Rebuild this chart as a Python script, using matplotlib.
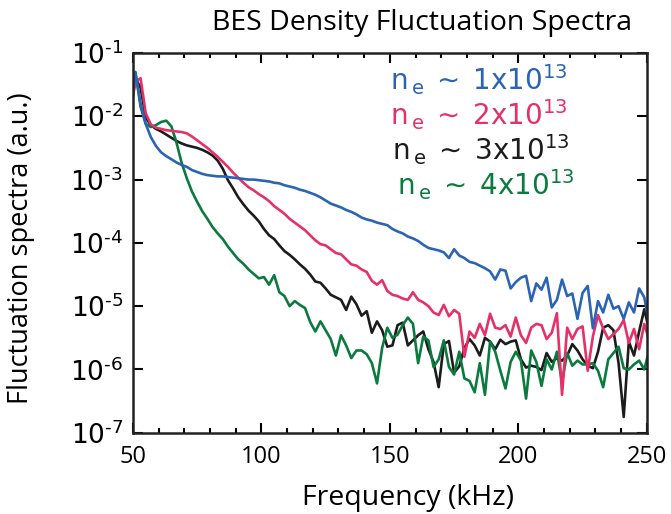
import matplotlib
matplotlib.use('Agg')
import matplotlib.pyplot as plt
import matplotlib.ticker as ticker
import numpy as np

plt.rcParams['mathtext.fontset'] = 'custom'
plt.rcParams['mathtext.rm'] = 'Liberation Sans'
plt.rcParams['mathtext.it'] = 'Liberation Sans'
plt.rcParams['mathtext.bf'] = 'Liberation Sans'

# frequency grid (kHz), 2 kHz steps
freq = np.arange(49, 252, 2)

# log10 of spectra
ne1 = [-1.90, -1.32, -1.80, -2.12, -2.33, -2.47, -2.57, -2.63, -2.68, -2.73,
       -2.77, -2.80, -2.85, -2.88, -2.91, -2.93, -2.94, -2.95, -2.95, -2.96,
       -2.97, -2.98, -2.99, -3.00, -3.00, -3.01, -3.02, -3.03, -3.05, -3.06,
       -3.09, -3.11, -3.13, -3.16, -3.18, -3.21, -3.24, -3.28, -3.33, -3.38,
       -3.41, -3.44, -3.48, -3.51, -3.55, -3.60, -3.63, -3.65, -3.68, -3.70,
       -3.72, -3.78, -3.82, -3.85, -3.90, -3.93, -3.97, -4.03, -4.08, -4.10,
       -4.12, -4.15, -4.24, -4.10, -4.20, -4.24, -4.30, -4.32, -4.36, -4.40,
       -4.45, -4.58, -4.42, -4.44, -4.72, -4.62, -4.55, -4.52, -4.92, -4.64,
       -4.74, -4.55, -5.02, -4.90, -4.58, -4.84, -4.80, -5.20, -4.79, -4.68,
       -5.35, -4.92, -5.10, -4.82, -5.04, -5.00, -5.20, -4.94, -5.10, -4.72,
       -4.86, -5.30]

ne2 = [-1.95, -1.45, -1.40, -1.95, -2.13, -2.18, -2.20, -2.22, -2.23, -2.24,
       -2.25, -2.27, -2.32, -2.38, -2.44, -2.50, -2.57, -2.64, -2.72, -2.80,
       -2.89, -2.97, -3.05, -3.12, -3.17, -3.23, -3.28, -3.34, -3.42, -3.48,
       -3.54, -3.62, -3.68, -3.74, -3.80, -3.88, -3.96, -4.02, -4.04, -4.10,
       -4.16, -4.18, -4.26, -4.34, -4.36, -4.42, -4.46, -4.60, -4.66, -4.59,
       -4.76, -4.82, -4.84, -4.88, -4.90, -4.78, -4.90, -4.94, -5.00, -5.10,
       -5.14, -4.98, -5.16, -5.06, -5.12, -5.80, -5.40, -5.50, -5.28, -5.46,
       -5.12, -5.34, -5.36, -5.30, -5.48, -5.18, -5.46, -5.58, -5.34, -5.28,
       -5.30, -5.52, -5.42, -5.11, -6.40, -5.34, -5.52, -5.36, -5.32, -6.02,
       -5.48, -5.14, -5.35, -5.52, -5.44, -5.36, -5.22, -5.58, -5.36, -5.68,
       -5.28, -5.55]

ne3 = [-1.95, -1.40, -1.55, -2.02, -2.14, -2.20, -2.24, -2.29, -2.34, -2.39,
       -2.43, -2.46, -2.48, -2.50, -2.53, -2.57, -2.62, -2.70, -2.83, -3.01,
       -3.14, -3.28, -3.39, -3.49, -3.57, -3.66, -3.78, -3.88, -3.94, -4.04,
       -4.13, -4.19, -4.26, -4.34, -4.41, -4.50, -4.61, -4.63, -4.72, -4.82,
       -4.86, -4.90, -5.06, -4.85, -4.97, -5.15, -5.08, -5.42, -5.24, -5.38,
       -5.64, -5.62, -5.30, -5.26, -5.62, -5.54, -5.46, -5.40, -5.68, -5.88,
       -6.28, -5.60, -5.55, -6.05, -5.95, -5.66, -5.52, -5.62, -5.78, -5.50,
       -5.56, -5.68, -5.53, -5.60, -5.56, -5.54, -5.84, -5.97, -5.94, -5.96,
       -6.01, -5.74, -5.88, -5.82, -5.86, -5.78, -5.60, -5.70, -5.84, -5.94,
       -5.98, -5.72, -5.34, -5.30, -5.38, -5.90, -6.75, -5.56, -5.78, -5.40,
       -5.05, -5.40]

ne4 = [-1.80, -1.30, -1.85, -2.12, -2.17, -2.14, -2.09, -2.07, -2.16, -2.42,
       -2.74, -2.98, -3.19, -3.35, -3.50, -3.62, -3.75, -3.85, -3.94, -4.06,
       -4.16, -4.26, -4.33, -4.42, -4.49, -4.56, -4.54, -4.66, -4.51, -4.78,
       -4.84, -5.00, -4.92, -4.98, -5.03, -5.25, -5.40, -5.24, -5.38, -5.52,
       -5.78, -5.46, -5.62, -5.82, -5.70, -5.70, -5.76, -5.90, -6.22, -5.66,
       -5.34, -5.50, -5.45, -5.30, -5.18, -5.28, -5.90, -5.48, -5.54, -5.96,
       -5.84, -5.54, -5.96, -6.08, -5.72, -6.14, -6.18, -6.36, -5.90, -6.40,
       -5.56, -5.72, -6.02, -6.30, -5.88, -5.72, -5.86, -6.46, -5.70, -5.88,
       -6.26, -5.84, -6.00, -5.72, -6.20, -5.74, -5.94, -5.86, -5.92, -5.92,
       -5.90, -6.02, -6.28, -5.84, -5.74, -5.64, -5.98, -6.00, -5.92, -5.86,
       -6.00, -5.68]

series = [ne1, ne2, ne3, ne4]
labels = ['1', '2', '3', '4']
colors = ['#2b63b5', '#e5316a', '#1c1c1c', '#0b7a3e']

fig = plt.figure(figsize=(6.71, 5.14), dpi=100)
ax = fig.add_axes([0.198, 0.158, 0.766, 0.739])

# draw black first so the others sit on top like the original
for i in [2, 3, 1, 0]:
    ax.plot(freq, 10.0 ** np.array(series[i]), color=colors[i], lw=1.9)

ax.set_yscale('log')
ax.set_xlim(50, 250)
ax.set_ylim(1e-7, 1e-1)

ax.xaxis.set_major_locator(ticker.MultipleLocator(50))
ax.xaxis.set_minor_locator(ticker.MultipleLocator(10))
ax.yaxis.set_major_locator(ticker.LogLocator(base=10, numticks=10))
ax.yaxis.set_minor_locator(ticker.NullLocator())
# short hyphen in the exponent, like the original
ax.yaxis.set_major_formatter(ticker.FuncFormatter(
    lambda v, p: r'$\mathregular{10^{' + '\u2010' + '%d}}$'
    % abs(int(round(np.log10(v))))))

ax.tick_params(which='both', direction='in', top=True, right=True, width=1.5)
ax.tick_params(which='major', length=7)
ax.tick_params(which='minor', length=3.5)
ax.tick_params(axis='y', labelsize=19, pad=7)
ax.tick_params(axis='x', labelsize=17, pad=9)
for lab in ax.get_xticklabels():
    lab.set_family('Open Sans')
for s in ax.spines.values():
    s.set_linewidth(1.8)
    s.set_color('#222222')

ax.set_xlabel('Frequency (kHz)', fontsize=20.5, family='Open Sans')
ax.xaxis.set_label_coords(0.535, -0.135)
ax.set_ylabel('Fluctuation spectra (a.u.)', fontsize=19.5, family='Open Sans')
ax.yaxis.set_label_coords(-0.19, 0.487)

fig.text(0.629, 0.942, 'BES Density Fluctuation Spectra', fontsize=20.5,
         family='Open Sans', ha='center', va='baseline')

leg_x = [0.50, 0.50, 0.505, 0.513]
leg_y = [0.903, 0.811, 0.718, 0.626]
for i in range(4):
    ax.text(leg_x[i], leg_y[i],
            r'$\mathregular{n\,{}_{e}\ \sim\ ' + labels[i] + r'x10^{13}}$',
            transform=ax.transAxes, color=colors[i], fontsize=20,
            ha='left', va='baseline')

fig.savefig('out.png', dpi=100)
